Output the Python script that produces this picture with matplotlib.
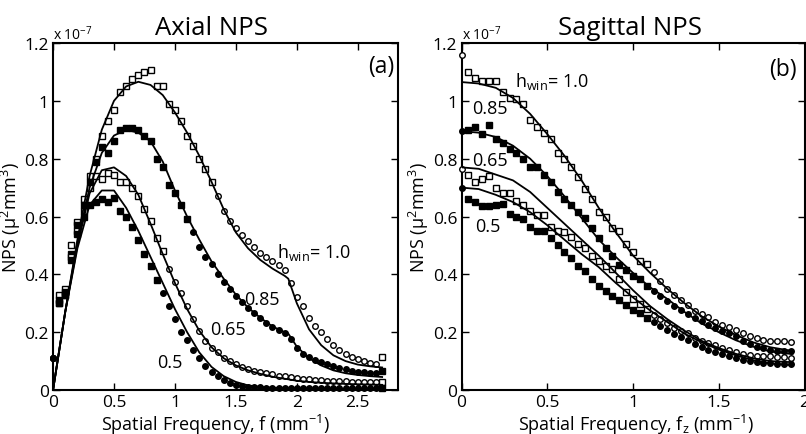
import matplotlib.pyplot as plt
import numpy as np

plt.rcParams['font.family'] = ['Open Sans', 'DejaVu Sans']
plt.rcParams['mathtext.fontset'] = 'custom'
plt.rcParams['mathtext.rm'] = 'Open Sans'
plt.rcParams['mathtext.it'] = 'Open Sans:italic'
plt.rcParams['mathtext.bf'] = 'Open Sans:bold'
plt.rcParams['mathtext.default'] = 'regular'

# NPS values in units of 1e-7 (mu^2 mm^3)

# ---- axial panel (a) ----
axial_f = [0, 0.05, 0.1, 0.15, 0.2, 0.25, 0.3, 0.35, 0.4, 0.45, 0.5, 0.55, 0.6, 0.65, 0.7,
           0.75, 0.8, 0.85, 0.9, 0.95, 1.0, 1.05, 1.1, 1.15, 1.2, 1.25, 1.3, 1.35, 1.4, 1.45,
           1.5, 1.55, 1.6, 1.65, 1.7, 1.75, 1.8, 1.85, 1.9, 1.95, 2.0, 2.05, 2.1, 2.15, 2.2,
           2.25, 2.3, 2.35, 2.4, 2.45, 2.5, 2.55, 2.6, 2.65, 2.7]
axial_meas_10 = [0.11, 0.33, 0.35, 0.50, 0.58, 0.66, 0.74, 0.80, 0.88, 0.93, 0.97, 1.03, 1.05, 1.075, 1.09,
                 1.10, 1.105, 1.05, 1.05, 0.99, 0.97, 0.93, 0.88, 0.845, 0.80, 0.765, 0.72, 0.67, 0.62, 0.585,
                 0.56, 0.535, 0.515, 0.495, 0.475, 0.46, 0.447, 0.433, 0.415, 0.37, 0.32, 0.29, 0.25, 0.22, 0.20,
                 0.175, 0.155, 0.137, 0.125, 0.115, 0.108, 0.10, 0.093, 0.09, 0.113]
axial_meas_085 = [0.11, 0.31, 0.34, 0.47, 0.57, 0.64, 0.72, 0.79, 0.84, 0.82, 0.86, 0.90, 0.905, 0.905, 0.90,
                  0.88, 0.86, 0.80, 0.77, 0.71, 0.68, 0.64, 0.59, 0.545, 0.495, 0.46, 0.435, 0.40, 0.375, 0.35,
                  0.326, 0.305, 0.285, 0.267, 0.248, 0.233, 0.219, 0.207, 0.197, 0.175, 0.145, 0.125, 0.113, 0.105, 0.098,
                  0.09, 0.083, 0.077, 0.071, 0.067, 0.064, 0.061, 0.06, 0.059, 0.067]
axial_meas_065 = [0.11, 0.30, 0.33, 0.46, 0.55, 0.62, 0.70, 0.74, 0.73, 0.75, 0.745, 0.72, 0.72, 0.70, 0.67,
                  0.625, 0.585, 0.525, 0.48, 0.42, 0.375, 0.335, 0.29, 0.245, 0.205, 0.17, 0.145, 0.13, 0.112, 0.10,
                  0.09, 0.081, 0.073, 0.066, 0.062, 0.058, 0.054, 0.05, 0.047, 0.044, 0.042, 0.039, 0.037, 0.035, 0.033,
                  0.032, 0.031, 0.03, 0.03, 0.029, 0.028, 0.028, 0.027, 0.027, 0.028]
axial_meas_05 = [0.11, 0.30, 0.33, 0.45, 0.54, 0.60, 0.64, 0.65, 0.66, 0.65, 0.665, 0.62, 0.60, 0.565, 0.52,
                 0.47, 0.43, 0.38, 0.335, 0.29, 0.245, 0.20, 0.172, 0.14, 0.11, 0.083, 0.064, 0.049, 0.036, 0.026,
                 0.019, 0.015, 0.012, 0.01, 0.009, 0.008, 0.008, 0.007, 0.007, 0.007, 0.006, 0.006, 0.006, 0.006, 0.006,
                 0.006, 0.006, 0.006, 0.006, 0.006, 0.006, 0.006, 0.006, 0.006, 0.008]

axial_fit_f = [0, 0.1, 0.2, 0.3, 0.4, 0.5, 0.6, 0.7, 0.8, 0.9, 1.0, 1.1, 1.2, 1.3, 1.4,
               1.5, 1.6, 1.7, 1.8, 1.9, 1.93, 2.0, 2.1, 2.2, 2.3, 2.4, 2.5, 2.6, 2.7]
axial_fit_10 = [0, 0.27, 0.52, 0.74, 0.90, 1.0, 1.05, 1.066, 1.055, 1.02, 0.96, 0.89, 0.81, 0.72, 0.625,
                0.545, 0.49, 0.45, 0.42, 0.395, 0.385, 0.30, 0.21, 0.155, 0.12, 0.10, 0.088, 0.082, 0.078]
axial_fit_085 = [0, 0.27, 0.51, 0.70, 0.82, 0.88, 0.90, 0.89, 0.86, 0.79, 0.69, 0.60, 0.52, 0.445, 0.385,
                 0.33, 0.285, 0.25, 0.22, 0.20, 0.195, 0.15, 0.11, 0.085, 0.068, 0.058, 0.052, 0.048, 0.045]
axial_fit_065 = [0, 0.27, 0.50, 0.68, 0.76, 0.77, 0.74, 0.675, 0.575, 0.47, 0.37, 0.28, 0.205, 0.148, 0.11,
                 0.085, 0.068, 0.056, 0.046, 0.039, 0.037, 0.032, 0.028, 0.025, 0.023, 0.021, 0.02, 0.019, 0.018]
axial_fit_05 = [0, 0.27, 0.49, 0.64, 0.69, 0.69, 0.63, 0.55, 0.46, 0.37, 0.28, 0.20, 0.13, 0.08, 0.048,
                0.028, 0.016, 0.011, 0.008, 0.007, 0.007, 0.006, 0.005, 0.005, 0.005, 0.004, 0.004, 0.004, 0.004]

# ---- sagittal panel (b) ----
sag_f = [0, 0.04, 0.08, 0.12, 0.16, 0.2, 0.24, 0.28, 0.32, 0.36, 0.4, 0.44, 0.48, 0.52, 0.56,
         0.6, 0.64, 0.68, 0.72, 0.76, 0.8, 0.84, 0.88, 0.92, 0.96, 1.0, 1.04, 1.08, 1.12, 1.16,
         1.2, 1.24, 1.28, 1.32, 1.36, 1.4, 1.44, 1.48, 1.52, 1.56, 1.6, 1.64, 1.68, 1.72, 1.76,
         1.8, 1.84, 1.88, 1.92]
sag_meas_10 = [1.16, 1.10, 1.08, 1.07, 1.07, 1.07, 1.03, 1.01, 1.005, 0.99, 0.935, 0.91, 0.89, 0.868, 0.82,
               0.80, 0.77, 0.735, 0.695, 0.66, 0.615, 0.60, 0.56, 0.55, 0.505, 0.476, 0.447, 0.435, 0.407, 0.378,
               0.35, 0.328, 0.313, 0.295, 0.275, 0.262, 0.252, 0.235, 0.224, 0.217, 0.207, 0.196, 0.186, 0.179, 0.173,
               0.17, 0.17, 0.17, 0.165]
sag_meas_085 = [0.897, 0.90, 0.91, 0.885, 0.915, 0.868, 0.855, 0.835, 0.82, 0.80, 0.77, 0.77, 0.745, 0.72, 0.685,
                0.66, 0.64, 0.615, 0.595, 0.56, 0.525, 0.49, 0.462, 0.432, 0.415, 0.395, 0.384, 0.36, 0.343, 0.326,
                0.308, 0.292, 0.278, 0.262, 0.25, 0.238, 0.226, 0.215, 0.205, 0.198, 0.186, 0.17, 0.16, 0.15, 0.145,
                0.14, 0.136, 0.136, 0.136]
sag_meas_065 = [0.765, 0.745, 0.72, 0.73, 0.74, 0.70, 0.68, 0.68, 0.655, 0.64, 0.62, 0.605, 0.605, 0.565, 0.55,
                0.545, 0.53, 0.505, 0.49, 0.465, 0.445, 0.43, 0.418, 0.385, 0.34, 0.315, 0.298, 0.28, 0.26, 0.245,
                0.233, 0.215, 0.205, 0.198, 0.18, 0.17, 0.163, 0.155, 0.146, 0.14, 0.131, 0.126, 0.122, 0.118, 0.117,
                0.116, 0.113, 0.113, 0.112]
sag_meas_05 = [0.70, 0.66, 0.65, 0.635, 0.638, 0.64, 0.645, 0.61, 0.60, 0.59, 0.565, 0.55, 0.55, 0.525, 0.50,
               0.476, 0.455, 0.43, 0.41, 0.385, 0.36, 0.343, 0.326, 0.31, 0.293, 0.278, 0.265, 0.25, 0.235, 0.22,
               0.208, 0.195, 0.183, 0.172, 0.16, 0.15, 0.14, 0.132, 0.124, 0.117, 0.11, 0.105, 0.1, 0.096, 0.094,
               0.092, 0.09, 0.09, 0.09]

sag_fit_f = [0, 0.1, 0.2, 0.3, 0.4, 0.5, 0.6, 0.7, 0.8, 0.9, 1.0, 1.1, 1.2, 1.3, 1.4,
             1.5, 1.6, 1.7, 1.8, 1.9, 1.93]
sag_fit_10 = [1.065, 1.06, 1.045, 1.01, 0.955, 0.885, 0.81, 0.725, 0.63, 0.545, 0.465, 0.405, 0.35, 0.30, 0.255,
              0.22, 0.19, 0.165, 0.148, 0.138, 0.136]
sag_fit_085 = [0.895, 0.89, 0.875, 0.845, 0.80, 0.74, 0.67, 0.595, 0.52, 0.46, 0.405, 0.355, 0.315, 0.27, 0.23,
               0.20, 0.172, 0.15, 0.133, 0.126, 0.125]
sag_fit_065 = [0.77, 0.765, 0.745, 0.725, 0.685, 0.63, 0.575, 0.52, 0.465, 0.405, 0.345, 0.29, 0.245, 0.205, 0.17,
               0.145, 0.125, 0.11, 0.10, 0.097, 0.097]
sag_fit_05 = [0.70, 0.695, 0.675, 0.65, 0.615, 0.57, 0.52, 0.47, 0.425, 0.37, 0.32, 0.275, 0.235, 0.195, 0.165,
              0.14, 0.12, 0.103, 0.092, 0.087, 0.087]

y_ticks = [0, 0.2, 0.4, 0.6, 0.8, 1.0, 1.2]
y_tick_labels = ["0", "0.2", "0.4", "0.6", "0.8", "1", "1.2"]


def draw_markers(ax, f, v, square_below, filled, last_square):
    f = np.array(f)
    v = np.array(v)
    sq = (f > 0) & (f < square_below)
    if last_square:
        sq[-1] = True
    face = "black" if filled else "white"
    ax.plot(f[sq], v[sq], "s", ms=4.8, mfc=face, mec="black", mew=1.0, clip_on=False, zorder=3)
    ax.plot(f[~sq], v[~sq], "o", ms=4.0, mfc=face, mec="black", mew=1.0, clip_on=False, zorder=3)


def style_axes(ax):
    ax.set_ylim(0, 1.2)
    ax.set_yticks(y_ticks)
    ax.set_yticklabels(y_tick_labels)
    ax.tick_params(direction="in", top=True, right=True, length=5, width=1, labelsize=12.5, pad=3)
    for sp in ax.spines.values():
        sp.set_linewidth(1.5)
    ax.set_ylabel("NPS (μ$^2$mm$^3$)", fontsize=13)
    ax.text(0.0, 1.012, "x 10$^{-7}$", transform=ax.transAxes, ha="left", va="baseline", fontsize=10)


def main():
    fig = plt.figure(figsize=(8.06, 4.35), dpi=100)
    ax1 = fig.add_axes([0.0658, 0.1011, 0.428, 0.7977])
    ax2 = fig.add_axes([0.5726, 0.1011, 0.4256, 0.7977])

    # axial
    draw_markers(ax1, axial_f, axial_meas_10, 1.35, False, True)
    draw_markers(ax1, axial_f, axial_meas_085, 1.15, True, True)
    draw_markers(ax1, axial_f, axial_meas_065, 0.95, False, True)
    draw_markers(ax1, axial_f, axial_meas_05, 0.9, True, True)
    for fit in [axial_fit_10, axial_fit_085, axial_fit_065, axial_fit_05]:
        ax1.plot(axial_fit_f, fit, "-", color="black", lw=1.3, zorder=4)
    ax1.set_xlim(0, 2.83)
    ax1.set_xticks([0, 0.5, 1, 1.5, 2, 2.5])
    ax1.set_xticklabels(["0", "0.5", "1", "1.5", "2", "2.5"])
    style_axes(ax1)
    ax1.set_xlabel("Spatial Frequency, f (mm$^{-1}$)", fontsize=13)
    ax1.xaxis.set_label_coords(0.472, -0.062)
    ax1.yaxis.set_label_coords(-0.088, 0.5)
    ax1.text(0.458, 1.026, "Axial NPS", transform=ax1.transAxes, ha="center", va="baseline", fontsize=18.5)
    ax1.text(0.99, 0.934, "(a)", transform=ax1.transAxes, ha="right", va="center", fontsize=16.5)
    ax1.text(1.84, 0.48, "h$_{win}$= 1.0", ha="left", va="center", fontsize=13)
    ax1.text(1.57, 0.315, "0.85", ha="left", va="center", fontsize=13)
    ax1.text(1.29, 0.21, "0.65", ha="left", va="center", fontsize=13)
    ax1.text(0.85, 0.097, "0.5", ha="left", va="center", fontsize=13)

    # sagittal
    draw_markers(ax2, sag_f, sag_meas_10, 1.1, False, False)
    draw_markers(ax2, sag_f, sag_meas_085, 1.1, True, False)
    draw_markers(ax2, sag_f, sag_meas_065, 1.1, False, False)
    draw_markers(ax2, sag_f, sag_meas_05, 1.1, True, False)
    for fit in [sag_fit_10, sag_fit_085, sag_fit_065, sag_fit_05]:
        ax2.plot(sag_fit_f, fit, "-", color="black", lw=1.3, zorder=4)
    ax2.set_xlim(0, 2)
    ax2.set_xticks([0, 0.5, 1, 1.5, 2])
    ax2.set_xticklabels(["0", "0.5", "1", "1.5", "2"])
    style_axes(ax2)
    ax2.set_xlabel("Spatial Frequency, f$_z$ (mm$^{-1}$)", fontsize=13)
    ax2.xaxis.set_label_coords(0.509, -0.062)
    ax2.yaxis.set_label_coords(-0.09, 0.5)
    ax2.text(0.491, 1.026, "Sagittal NPS", transform=ax2.transAxes, ha="center", va="baseline", fontsize=18.5)
    ax2.text(0.978, 0.925, "(b)", transform=ax2.transAxes, ha="right", va="center", fontsize=16.5)
    ax2.text(0.31, 1.07, "h$_{win}$= 1.0", ha="left", va="center", fontsize=13)
    ax2.text(0.06, 0.975, "0.85", ha="left", va="center", fontsize=13)
    ax2.text(0.06, 0.795, "0.65", ha="left", va="center", fontsize=13)
    ax2.text(0.08, 0.567, "0.5", ha="left", va="center", fontsize=13)

    fig.savefig("out.png", dpi=100)


if __name__ == '__main__':
    main()
